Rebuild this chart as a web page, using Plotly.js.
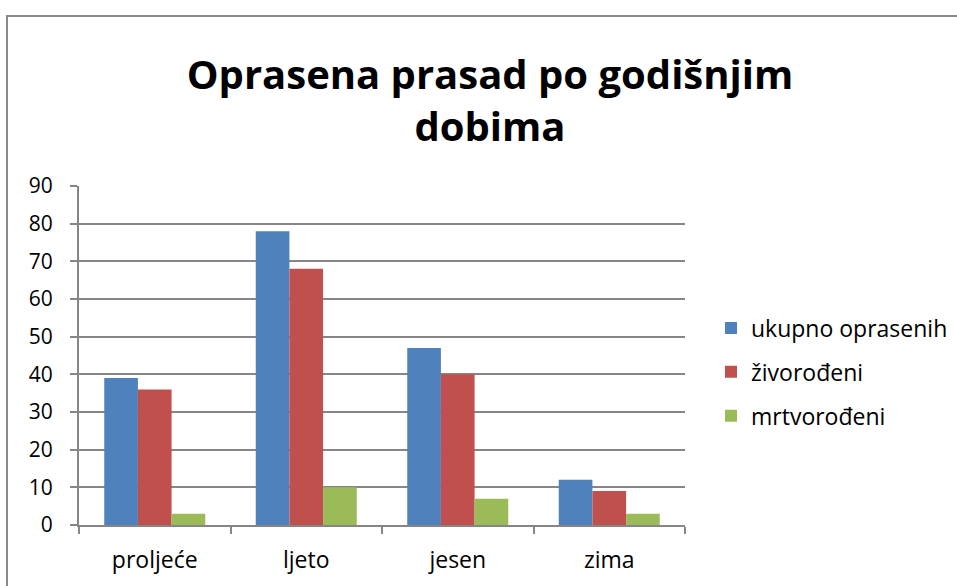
<!DOCTYPE html>
<html>
<head>
<meta charset="utf-8">
<script src="https://cdn.plot.ly/plotly-3.0.1.min.js"></script>
<style>
  html, body { margin: 0; padding: 0; background: #fff; }
  #wrap { position: relative; width: 957px; height: 586px; overflow: hidden; }
  #chart { position: absolute; left: 0; top: 0; width: 957px; height: 586px; }
  #frame { position: absolute; left: 6px; top: 15px; width: 980px; height: 620px;
           border: 2px solid #8a8a8a; pointer-events: none; box-sizing: border-box; }
</style>
</head>
<body>
<div id="wrap">
  <div id="chart"></div>
  <div id="frame"></div>
</div>
<script>
const categories = ["proljeće", "ljeto", "jesen", "zima"];
const seriesNames = ["ukupno oprasenih", "živorođeni", "mrtvorođeni"];
const ukupnoOprasenih = [39, 78, 47, 12];
const zivorodeni = [36, 68, 40, 9];
const mrtvorodeni = [3, 10, 7, 3];
const yTicks = [0, 10, 20, 30, 40, 50, 60, 70, 80, 90];

const colors = ["#4F81BD", "#C0504D", "#9BBB59"];
const values = [ukupnoOprasenih, zivorodeni, mrtvorodeni];

const traces = values.map((v, i) => ({
  type: "bar",
  name: seriesNames[i],
  x: categories,
  y: v,
  marker: { color: colors[i], line: { width: 0 } },
  legendgroup: "g" + i,
  hoverinfo: "x+y+name"
}));

const font = "Open Sans, Noto Sans, Liberation Sans, sans-serif";

const layout = {
  width: 957,
  height: 586,
  margin: { l: 79, r: 272, t: 186, b: 61, autoexpand: false },
  paper_bgcolor: "rgba(0,0,0,0)",
  plot_bgcolor: "rgba(0,0,0,0)",
  font: { family: font, color: "#000", size: 20 },
  title: {
    text: "<b>Oprasena prasad po godišnjim<br>dobima</b>",
    font: { family: font, size: 40, color: "#000" },
    x: 490 / 957,
    xanchor: "center",
    xref: "container",
    yref: "container",
    y: 1 - 89 / 586,
    yanchor: "top"
  },
  barmode: "group",
  bargap: 1 / 3,
  bargroupgap: 0,
  xaxis: {
    type: "category",
    automargin: false,
    showgrid: false,
    showline: true,
    linecolor: "#868686",
    linewidth: 2,
    ticks: "outside",
    tickson: "boundaries",
    ticklen: 7,
    tickwidth: 2,
    tickcolor: "#868686",
    ticklabelstandoff: 13,
    tickfont: { family: font, size: 23, color: "#000" },
    fixedrange: true
  },
  yaxis: {
    automargin: false,
    range: [0, 90],
    tickvals: yTicks,
    ticktext: yTicks.map(String),
    showgrid: true,
    gridcolor: "#868686",
    gridwidth: 2,
    showline: true,
    linecolor: "#868686",
    linewidth: 2,
    ticks: "outside",
    ticklen: 7,
    tickwidth: 2,
    tickcolor: "#868686",
    ticklabelstandoff: 13,
    zeroline: false,
    tickfont: { family: font, size: 21, color: "#000" },
    fixedrange: true
  },
  showlegend: true,
  legend: {
    xref: "container",
    yref: "container",
    x: 711 / 957,
    xanchor: "left",
    y: 1 - 372 / 586,
    yanchor: "middle",
    font: { family: font, size: 23, color: "#000" },
    bgcolor: "rgba(0,0,0,0)",
    tracegroupgap: 11,
    traceorder: "grouped",
    itemclick: false,
    itemdoubleclick: false
  }
};

Plotly.newPlot("chart", traces, layout, { displayModeBar: false, staticPlot: true });
</script>
</body>
</html>
